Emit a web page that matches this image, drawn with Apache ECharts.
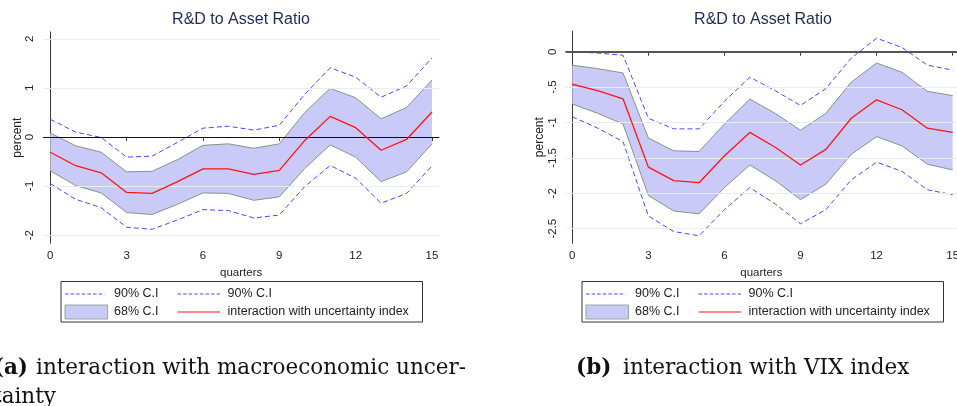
<!DOCTYPE html>
<html>
<head>
<meta charset="utf-8">
<script src="https://cdn.jsdelivr.net/npm/echarts@6/dist/echarts.min.js"></script>
<style>
  html, body { margin: 0; padding: 0; background: #ffffff; }
  #chart { width: 957px; height: 406px; }
</style>
</head>
<body>
<div id="chart"></div>
<script>
// Quarters after the shock
const quarters = [0, 1, 2, 3, 4, 5, 6, 7, 8, 9, 10, 11, 12, 13, 14, 15];
const xTicks = [0, 3, 6, 9, 12, 15];

// Panel (a): interaction with macroeconomic uncertainty
const aPoint   = [-0.31, -0.585, -0.73, -1.13, -1.15, -0.91, -0.65, -0.65, -0.76, -0.68, -0.07, 0.42, 0.19, -0.27, -0.05, 0.51];
const aUp68    = [0.08, -0.18, -0.31, -0.71, -0.70, -0.46, -0.17, -0.14, -0.23, -0.14, 0.50, 0.99, 0.80, 0.37, 0.60, 1.16];
const aLow68   = [-0.69, -0.99, -1.14, -1.54, -1.58, -1.37, -1.14, -1.15, -1.29, -1.22, -0.64, -0.16, -0.41, -0.91, -0.71, -0.14];
const aUp90    = [0.36, 0.10, -0.01, -0.41, -0.39, -0.11, 0.18, 0.22, 0.14, 0.24, 0.87, 1.41, 1.22, 0.81, 1.04, 1.61];
const aLow90   = [-0.95, -1.27, -1.44, -1.84, -1.88, -1.69, -1.48, -1.50, -1.65, -1.59, -1.01, -0.58, -0.84, -1.35, -1.15, -0.59];
const aYTicks  = [-2, -1, 0, 1, 2];

// Panel (b): interaction with VIX index
const bPoint   = [-0.46, -0.55, -0.665, -1.63, -1.82, -1.85, -1.47, -1.14, -1.35, -1.60, -1.38, -0.94, -0.68, -0.82, -1.08, -1.14];
const bUp68    = [-0.19, -0.24, -0.30, -1.22, -1.40, -1.41, -1.02, -0.67, -0.87, -1.11, -0.87, -0.43, -0.16, -0.29, -0.56, -0.62];
const bLow68   = [-0.74, -0.87, -1.02, -2.03, -2.25, -2.29, -1.92, -1.60, -1.82, -2.09, -1.87, -1.45, -1.20, -1.33, -1.59, -1.67];
const bUp90    = [0.0, -0.02, -0.05, -0.94, -1.09, -1.09, -0.70, -0.36, -0.55, -0.76, -0.52, -0.09, 0.19, 0.06, -0.19, -0.26];
const bLow90   = [-0.92, -1.08, -1.27, -2.32, -2.54, -2.60, -2.23, -1.92, -2.15, -2.43, -2.23, -1.81, -1.56, -1.69, -1.95, -2.02];
const bYTicks  = [-2.5, -2, -1.5, -1, -0.5, 0];

const panelTitle = 'R&D to Asset Ratio';
const legendLabels = ['90% C.I', '90% C.I', '68% C.I', 'interaction with uncertainty index'];

const C = {
  band: '#cacaf9',
  bandEdge: '#859685',
  dash: '#4a4aff',
  red: '#ff1414',
  axis: '#3a3a3a',
  grid: '#e4eef0',
  text: '#222222',
  title: '#1e2c52'
};
const SANS = '"Liberation Sans", Arial, sans-serif';
const SERIF = '"DejaVu Serif", serif';

const pairs = (ys) => quarters.map((q, i) => [q, ys[i]]);
const stataNum = (v) => String(v).replace(/^(-?)0\./, '$1.');

function xAxisFor(gi, min, max) {
  return {
    type: 'value', gridIndex: gi, min: min, max: max,
    name: 'quarters', nameLocation: 'middle', nameGap: 19,
    nameTextStyle: { fontFamily: SANS, fontSize: 11.5, color: C.text },
    axisLine: { show: true, lineStyle: { color: C.axis, width: 1 } },
    axisTick: { show: true, length: 4, customValues: xTicks, lineStyle: { color: C.axis } },
    axisLabel: { customValues: xTicks, margin: 7, fontFamily: SANS, fontSize: 11.5, color: C.text,
                 hideOverlap: false },
    splitLine: { show: false }
  };
}
function yAxisFor(gi, min, max, ticks) {
  return {
    type: 'value', gridIndex: gi, min: min, max: max,
    name: 'percent', nameLocation: 'middle', nameRotate: 90, nameGap: 20,
    nameTextStyle: { fontFamily: SANS, fontSize: 12, color: C.text },
    axisLine: { show: true, lineStyle: { color: C.axis, width: 1 } },
    axisTick: { show: true, length: 4, customValues: ticks, lineStyle: { color: C.axis } },
    axisLabel: { customValues: ticks, rotate: 90, margin: 7, fontFamily: SANS, fontSize: 11.5, color: C.text,
                 formatter: (v) => stataNum(v) },
    splitLine: { show: false }
  };
}

// 68% band drawn as one polygon: upper edge left-to-right, lower edge back
function bandSeries(gi, up, low) {
  return {
    type: 'custom', xAxisIndex: gi, yAxisIndex: gi, z: 2, silent: true,
    data: quarters.map((q, i) => [q, low[i], up[i]]),
    renderItem: function (params, api) {
      if (params.dataIndex !== 0) return null;
      const pts = [];
      for (let i = 0; i < quarters.length; i++) pts.push(api.coord([quarters[i], up[i]]));
      for (let i = quarters.length - 1; i >= 0; i--) pts.push(api.coord([quarters[i], low[i]]));
      return { type: 'polygon', shape: { points: pts }, style: { fill: C.band, stroke: null } };
    }
  };
}

function panelSeries(gi, up90, low90, up68, low68, point, ticks, zeroStyle) {
  const gridVals = ticks.filter((t) => t !== 0);
  return [
    { // horizontal reference lines
      type: 'line', xAxisIndex: gi, yAxisIndex: gi, data: [], silent: true, z: 1,
      markLine: {
        silent: true, symbol: 'none', label: { show: false },
        lineStyle: { color: C.grid, width: 1, type: 'solid' },
        data: gridVals.map((v) => ({ yAxis: v }))
      }
    },
    bandSeries(gi, up68, low68),
    {
      type: 'line', xAxisIndex: gi, yAxisIndex: gi, data: pairs(low68),
      symbol: 'none', z: 3, lineStyle: { color: C.bandEdge, width: 1 }
    },
    {
      type: 'line', xAxisIndex: gi, yAxisIndex: gi, data: pairs(up68),
      symbol: 'none', z: 3, lineStyle: { color: C.bandEdge, width: 1 }
    },
    { // zero line
      type: 'line', xAxisIndex: gi, yAxisIndex: gi, data: [], silent: true, z: 3,
      markLine: {
        silent: true, symbol: 'none', label: { show: false },
        lineStyle: zeroStyle, data: [{ yAxis: 0 }]
      }
    },
    {
      type: 'line', xAxisIndex: gi, yAxisIndex: gi, data: pairs(up90), symbol: 'none', z: 4,
      lineStyle: { color: C.dash, width: 1, type: [5, 3] }
    },
    {
      type: 'line', xAxisIndex: gi, yAxisIndex: gi, data: pairs(low90), symbol: 'none', z: 4,
      lineStyle: { color: C.dash, width: 1, type: [5, 3] }
    },
    {
      type: 'line', xAxisIndex: gi, yAxisIndex: gi, data: pairs(point), symbol: 'none', z: 5,
      lineStyle: { color: C.red, width: 1.3 }
    }
  ];
}

function legendBox(x0) {
  const y1 = 294, y2 = 312;
  const txt = (x, y, s) => ({
    type: 'text', x: x, y: y,
    style: { text: s, font: '12.5px ' + SANS, fill: C.text, textAlign: 'left', textVerticalAlign: 'middle' }
  });
  return [
    { type: 'rect', shape: { x: x0 + 0.5, y: 281.5, width: 361.5, height: 40.5 },
      style: { fill: '#ffffff', stroke: '#333333', lineWidth: 1 } },
    { type: 'line', shape: { x1: x0 + 4.5, y1: y1, x2: x0 + 44, y2: y1 },
      style: { stroke: C.dash, lineWidth: 1, lineDash: [3.5, 2.1] } },
    txt(x0 + 53.5, y1, legendLabels[0]),
    { type: 'line', shape: { x1: x0 + 117, y1: y1, x2: x0 + 159.5, y2: y1 },
      style: { stroke: C.dash, lineWidth: 1, lineDash: [3.5, 2.1] } },
    txt(x0 + 167, y1, legendLabels[1]),
    { type: 'rect', shape: { x: x0 + 4.5, y: 305, width: 42.5, height: 14 },
      style: { fill: C.band, stroke: '#9aa69a', lineWidth: 1 } },
    txt(x0 + 53.5, y2, legendLabels[2]),
    { type: 'line', shape: { x1: x0 + 117, y1: y2, x2: x0 + 159.5, y2: y2 },
      style: { stroke: C.red, lineWidth: 1.2 } },
    txt(x0 + 167, y2, legendLabels[3])
  ];
}

const titleText = (cx) => ({
  type: 'text', x: cx, y: 20,
  style: { text: panelTitle, font: '16px ' + SANS, fill: C.title, textAlign: 'center', textVerticalAlign: 'middle' }
});
const capText = (x, y, s, bold, align) => ({
  type: 'text', x: x, y: y,
  style: { text: s, font: (bold ? 'bold ' : '') + '21.5px ' + SERIF, fill: '#111111',
           textAlign: align || 'left', textVerticalAlign: 'middle' }
});

const chart = echarts.init(document.getElementById('chart'), null, { renderer: 'canvas' });
chart.setOption({
  animation: false,
  backgroundColor: '#ffffff',
  grid: [
    { left: 43.3, top: 32, width: 395.7, height: 211.3, outerBoundsMode: 'none', containLabel: false },
    { left: 565.7, top: 31, width: 391.3, height: 212.3, outerBoundsMode: 'none', containLabel: false }
  ],
  xAxis: [xAxisFor(0, -0.275, 15.275), xAxisFor(1, -0.26, 15.17)],
  yAxis: [yAxisFor(0, -2.166, 2.139, aYTicks), yAxisFor(1, -2.706, 0.292, bYTicks)],
  series: [].concat(
    panelSeries(0, aUp90, aLow90, aUp68, aLow68, aPoint, aYTicks, { color: '#111111', width: 1.2, type: 'solid' }),
    panelSeries(1, bUp90, bLow90, bUp68, bLow68, bPoint, bYTicks, { color: '#555555', width: 2, type: 'solid' })
  ),
  graphic: [].concat(
    [titleText(241), titleText(763)],
    legendBox(60.5),
    legendBox(581.5),
    [
      capText(28, 368, '(a)', true, 'right'),
      capText(36, 368, 'interaction with macroeconomic uncer-', false),
      capText(-7, 397, 'tainty', false),
      capText(576, 368, '(b)', true),
      capText(623, 368, 'interaction with VIX index', false)
    ]
  )
});
</script>
</body>
</html>
